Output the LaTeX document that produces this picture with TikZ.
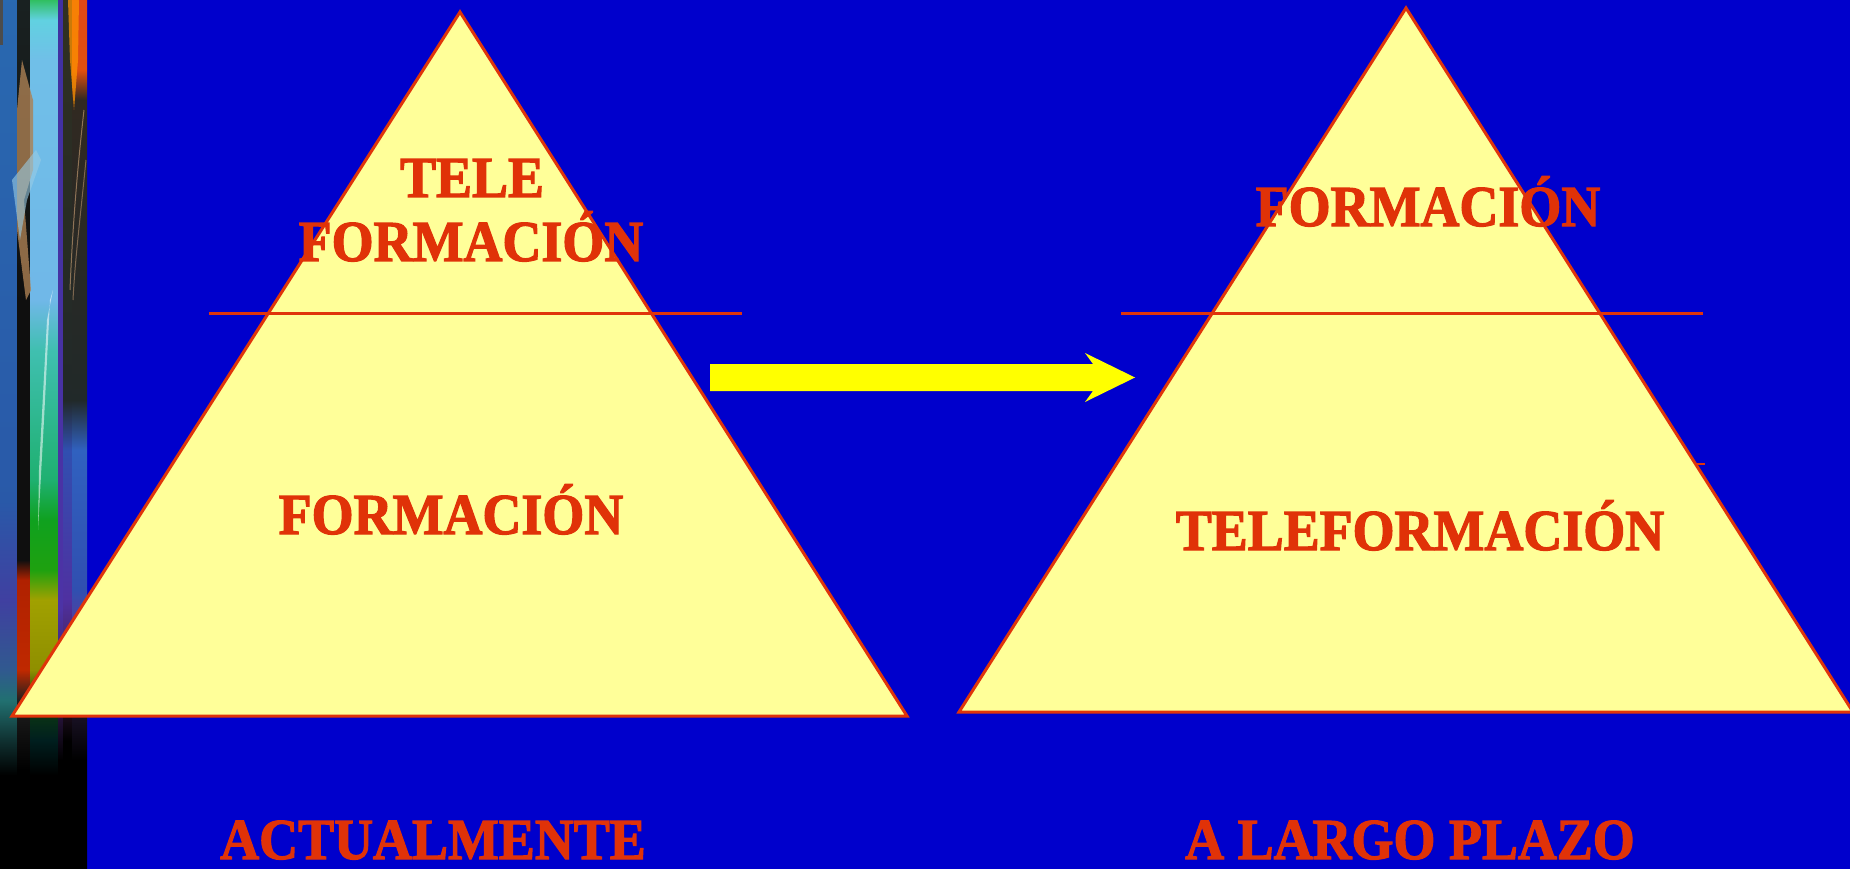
\documentclass[tikz,border=0pt]{standalone}
\usepackage{fontspec}
\setmainfont{Liberation Serif}[FakeStretch=0.93,BoldFeatures={FakeBold=2}]
\definecolor{bgblue}{RGB}{0,0,204}
\definecolor{triyellow}{RGB}{255,255,153}
\definecolor{redline}{RGB}{224,52,10}
\definecolor{redtext}{RGB}{224,50,8}
\definecolor{arrowyellow}{RGB}{255,255,0}
\pgfdeclareverticalshading{stripA}{100bp}{rgb(0bp)=(0,0,0); rgb(30.4bp)=(0,0,0); rgb(32.4bp)=(0.06,0.19,0.19); rgb(34.7bp)=(0.13,0.44,0.44); rgb(36.45bp)=(0.19,0.35,0.56); rgb(40.48bp)=(0.25,0.25,0.63); rgb(46.23bp)=(0.16,0.35,0.66); rgb(75bp)=(0.16,0.41,0.69); rgb(100bp)=(0.16,0.41,0.69)}
\pgfdeclareverticalshading{stripB}{100bp}{rgb(0bp)=(0,0,0); rgb(30.7bp)=(0,0,0); rgb(34.7bp)=(0.12,0.12,0.12); rgb(36.45bp)=(0.75,0.16,0); rgb(41.63bp)=(0.69,0.13,0); rgb(42.78bp)=(0.06,0.06,0.06); rgb(57.74bp)=(0.06,0.06,0.06); rgb(75bp)=(0.10,0.13,0.13); rgb(100bp)=(0.10,0.13,0.13)}
\pgfdeclareverticalshading{stripC}{100bp}{rgb(0bp)=(0,0,0); rgb(30.4bp)=(0,0,0); rgb(32.42bp)=(0,0.12,0.12); rgb(34.72bp)=(0.06,0.25,0.06); rgb(36.45bp)=(0.56,0.56,0); rgb(40.48bp)=(0.63,0.63,0); rgb(42.2bp)=(0.12,0.63,0.06); rgb(45.08bp)=(0.06,0.63,0.12); rgb(47.38bp)=(0.12,0.69,0.44); rgb(54.86bp)=(0.25,0.75,0.69); rgb(57.74bp)=(0.44,0.72,0.91); rgb(71.55bp)=(0.44,0.75,0.91); rgb(73.85bp)=(0.38,0.82,0.88); rgb(75bp)=(0.19,0.75,0.38); rgb(100bp)=(0.19,0.75,0.38)}
\pgfdeclareverticalshading{stripD}{100bp}{rgb(0bp)=(0,0,0); rgb(31.27bp)=(0,0,0); rgb(34.72bp)=(0.2,0.1,0.3); rgb(40bp)=(0.3,0.2,0.65); rgb(75bp)=(0.25,0.19,0.63); rgb(100bp)=(0.25,0.19,0.63)}
\pgfdeclareverticalshading{stripE}{100bp}{rgb(0bp)=(0,0,0); rgb(32.4bp)=(0,0,0); rgb(35.87bp)=(0.25,0.12,0.25); rgb(40.48bp)=(0.31,0.19,0.63); rgb(49.11bp)=(0.19,0.31,0.69); rgb(51.98bp)=(0.13,0.16,0.16); rgb(75bp)=(0.19,0.19,0.13); rgb(100bp)=(0.19,0.19,0.13)}
\pgfdeclareverticalshading{stripF}{100bp}{rgb(0bp)=(0,0,0); rgb(31.27bp)=(0,0,0); rgb(34.72bp)=(0.13,0.09,0.19); rgb(39.33bp)=(0.31,0.25,0.63); rgb(41.05bp)=(0.19,0.31,0.69); rgb(49.11bp)=(0.19,0.38,0.75); rgb(51.98bp)=(0.13,0.16,0.16); rgb(69.25bp)=(0.19,0.16,0.13); rgb(70.97bp)=(0.88,0.31,0.06); rgb(75bp)=(0.88,0.28,0.09); rgb(100bp)=(0.88,0.28,0.09)}
\begin{document}
\begin{tikzpicture}[x=1pt,y=-1pt,
  tri/.style={fill=triyellow,draw=redline,line width=3pt,line join=miter},
  divline/.style={draw=redline,line width=3pt},
  lbl/.style={text=redtext,font=\bfseries\fontsize{58}{64}\selectfont,anchor=base,inner sep=0pt}]
\useasboundingbox (0,0) rectangle (1850,869);
\fill[bgblue] (0,0) rectangle (1850,869);
% decorative strip
\shade[shading=stripA] (0,0) rectangle (17,869);
\shade[shading=stripB] (17,0) rectangle (30,869);
\shade[shading=stripC] (30,0) rectangle (58,869);
\shade[shading=stripD] (58,0) rectangle (63,869);
\shade[shading=stripE] (63,0) rectangle (72,869);
\shade[shading=stripF] (72,0) rectangle (87,869);
\fill[black!70] (0,0) rectangle (3,45);
\fill[orange!85!yellow,opacity=.75] (68,0) -- (79,0) -- (78,60) -- (74,110) -- (70,60) -- cycle;
\fill[brown!70!gray,opacity=.8] (22,60) -- (33,100) -- (33,170) -- (24,200) -- (31,290) -- (26,300) -- (17,230) -- (17,110) -- cycle;
\fill[violet!40!cyan!50!white,opacity=.6] (36,150) -- (12,180) -- (20,240) -- (27,200) -- (41,160) -- cycle;
\fill[white,opacity=.55] (53,290) -- (50,300) -- (44,420) -- (38,530) -- (39,470) -- (47,320) -- cycle;
\draw[brown!70,opacity=.6,line width=1pt] (84,110) .. controls (76,180) and (72,240) .. (70,290);
\draw[brown!70,opacity=.5,line width=1pt] (86,160) .. controls (80,220) and (75,260) .. (73,300);
% left pyramid
\coordinate (LA) at (460,12);
\coordinate (LB) at (12,716);
\coordinate (LC) at (907,716);
\path[tri] (LA) -- (LC) -- (LB) -- cycle;
\coordinate (L1) at (209,313);
\coordinate (L2) at (742,313);
\path[divline] (L1) -- (L2);
% right pyramid
\coordinate (H1) at (1200,464);
\coordinate (H2) at (1705,464);
\path[draw=redline,line width=2.5pt] (H1) -- (H2);
\coordinate (RA) at (1406,8);
\coordinate (RB) at (959,712);
\coordinate (RC) at (1853,712);
\path[tri] (RA) -- (RC) -- (RB) -- cycle;
\coordinate (R1) at (1121,313);
\coordinate (R2) at (1703,313);
\path[divline] (R1) -- (R2);
% texts
\node[lbl] (tele) at (472,197) {TELE};
\node[lbl] (teleform) at (471,261) {FORMACIÓN};
\node[lbl] (formL) at (451,534) {FORMACIÓN};
\node[lbl] (formR) at (1428,226) {FORMACIÓN};
\node[lbl] (teleR) at (1420,550) {TELEFORMACIÓN};
\node[lbl] (actual) at (433,859) {ACTUALMENTE};
\node[lbl] (largo) at (1410,859) {A LARGO PLAZO};
% arrow
\coordinate (arrS) at (710,377.5);
\coordinate (arrE) at (1135,377.5);
\fill[arrowyellow] (arrS) ++(0,-13.5) -- ++(383,0) -- ++(-8,-11) -- (arrE) -- ++(-50,24.5) -- ++(8,-11) -- ++(-383,0) -- cycle;
\end{tikzpicture}
\end{document}
